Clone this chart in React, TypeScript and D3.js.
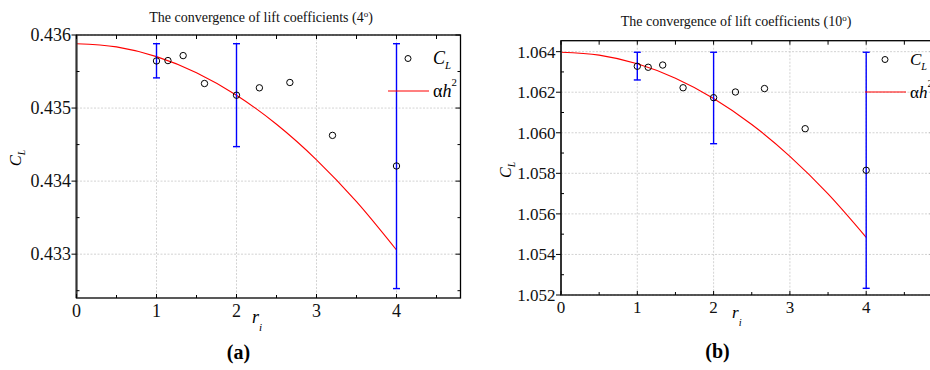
import React from "react";
import * as d3 from "d3";

// ---- data ----
const R_VALUES = [1, 1.143, 1.333, 1.6, 2, 2.286, 2.667, 3.2, 4];
const CL_4 = [0.435645, 0.43565, 0.435718, 0.435336, 0.435176, 0.435277, 0.43535, 0.434626, 0.434207];
const CL_10 = [1.06328, 1.06323, 1.06334, 1.06222, 1.06173, 1.06201, 1.06218, 1.0602, 1.05815];

const ERR_X = [1, 2, 4];
const ERR_4_LOW = [0.435413, 0.434472, 0.432529];
const ERR_4_HIGH = [0.435881, 0.435881, 0.435881];
const ERR_10_LOW = [1.062604, 1.059461, 1.05233];
const ERR_10_HIGH = [1.06397, 1.06397, 1.06397];

const FIT_X = [0, 0.5, 1, 1.5, 2, 2.5, 3, 3.5, 4];
const FIT_4 = [0.435881, 0.435837, 0.435704, 0.435484, 0.435175, 0.434778, 0.434292, 0.433719, 0.433057];
const FIT_10 = [1.06397, 1.063827, 1.0634, 1.062687, 1.06169, 1.060408, 1.05884, 1.056987, 1.054844];

const X_TICKS = [0, 1, 2, 3, 4];
const Y_TICKS_4 = [0.433, 0.434, 0.435, 0.436];
const Y_TICKS_10 = [1.052, 1.054, 1.056, 1.058, 1.06, 1.062, 1.064];

const TITLE_4 = "4";
const TITLE_10 = "10";

const FONT = "Liberation Serif";

type PanelProps = {
  left: number; top: number; bottom: number; pxPerUnit: number; xMax: number;
  yDomain: [number, number]; yTicks: number[]; yMinorStep: number; yFmt: string;
  values: number[]; errLow: number[]; errHigh: number[]; fit: number[];
  titleNum: string; titleX: number; titleY: number;
  tickFont: number; yLabelX: number; yLabelY: number; yLabelFont: number;
  xLabelX: number; xLabelY: number; xTickY: number;
  letter: string; letterX: number; letterY: number;
  legX: number; legY: number; legFont: number;
};

function Panel(p: PanelProps) {
  const x = d3.scaleLinear().domain([0, p.xMax]).range([p.left, p.left + p.xMax * p.pxPerUnit]);
  const y = d3.scaleLinear().domain(p.yDomain).range([p.bottom, p.top]);
  const right = x(p.xMax);
  const fmt = d3.format(p.yFmt);
  const xMinor = d3.range(0.5, p.xMax, 1);
  const yMinor = d3.range(p.yDomain[0], p.yDomain[1] + 1e-9, p.yMinorStep)
    .map((v) => Math.round(v / p.yMinorStep) * p.yMinorStep)
    .filter((v) => v >= p.yDomain[0] - 1e-9 && v <= p.yDomain[1] + 1e-9 && !p.yTicks.some((t) => Math.abs(t - v) < 1e-9));
  const line = d3.line<number>().x((_, i) => x(FIT_X[i])).y((d) => y(d)).curve(d3.curveMonotoneX);
  const cap = 3.5;
  return (
    <g>
      {/* grid */}
      {X_TICKS.filter((t) => t > 0).map((t) => (
        <line key={"gx" + t} x1={x(t)} x2={x(t)} y1={p.top} y2={p.bottom} stroke="#c8c8c8" strokeWidth={0.8} strokeDasharray="2,1.5" />
      ))}
      {p.yTicks.map((t) => (
        <line key={"gy" + t} x1={p.left} x2={right} y1={y(t)} y2={y(t)} stroke="#c8c8c8" strokeWidth={0.8} strokeDasharray="2,1.5" />
      ))}
      {/* fit curve */}
      <path d={line(p.fit) || ""} fill="none" stroke="#ff0000" strokeWidth={1.1} />
      {/* error bars */}
      {ERR_X.map((ex, i) => (
        <g key={"e" + i} stroke="#0000ff" strokeWidth={1.4}>
          <line x1={x(ex)} x2={x(ex)} y1={y(p.errHigh[i])} y2={y(p.errLow[i])} />
          <line x1={x(ex) - cap} x2={x(ex) + cap} y1={y(p.errHigh[i])} y2={y(p.errHigh[i])} />
          <line x1={x(ex) - cap} x2={x(ex) + cap} y1={y(p.errLow[i])} y2={y(p.errLow[i])} />
        </g>
      ))}
      {/* points */}
      {p.values.map((v, i) => (
        <circle key={"c" + i} cx={x(R_VALUES[i])} cy={y(v)} r={3.2} fill="none" stroke="#000" strokeWidth={1} />
      ))}
      {/* frame */}
      <rect x={p.left} y={p.top} width={right - p.left} height={p.bottom - p.top} fill="none" stroke="#000" strokeWidth={1.3} />
      <line x1={p.left} x2={p.left} y1={p.top} y2={p.bottom} stroke="#333" strokeWidth={2} />
      {/* x ticks */}
      {X_TICKS.map((t) => (
        <g key={"xt" + t}>
          <line x1={x(t)} x2={x(t)} y1={p.bottom} y2={p.bottom - 4} stroke="#000" />
          <line x1={x(t)} x2={x(t)} y1={p.top} y2={p.top + 4} stroke="#000" />
          <text x={x(t)} y={p.xTickY} fontFamily={FONT} fontSize={p.tickFont} textAnchor="middle" fill="#111">{t}</text>
        </g>
      ))}
      {xMinor.map((t) => (
        <g key={"xm" + t}>
          <line x1={x(t)} x2={x(t)} y1={p.bottom} y2={p.bottom - 3} stroke="#000" />
          <line x1={x(t)} x2={x(t)} y1={p.top} y2={p.top + 4} stroke="#000" />
        </g>
      ))}
      {/* y ticks */}
      {p.yTicks.map((t) => (
        <g key={"yt" + t}>
          <line x1={p.left - 5} x2={p.left} y1={y(t)} y2={y(t)} stroke="#000" />
          <line x1={right} x2={right - 5} y1={y(t)} y2={y(t)} stroke="#000" />
          <text x={p.left - 5.5} y={y(t)} dy="0.35em" fontFamily={FONT} fontSize={p.tickFont} textAnchor="end" fill="#111">{fmt(t)}</text>
        </g>
      ))}
      {yMinor.map((t) => (
        <g key={"ym" + t}>
          <line x1={p.left} x2={p.left + 3} y1={y(t)} y2={y(t)} stroke="#000" />
          <line x1={right} x2={right - 3} y1={y(t)} y2={y(t)} stroke="#000" />
        </g>
      ))}
      {/* title */}
      <text x={p.titleX} y={p.titleY} fontFamily={FONT} fontSize={14} textAnchor="middle" fill="#111">
        The convergence of lift coefficients ({p.titleNum}
        <tspan fontSize={9} dy={-5}>o</tspan>
        <tspan dy={5}>)</tspan>
      </text>
      {/* y label */}
      <text transform={`translate(${p.yLabelX},${p.yLabelY}) rotate(-90)`} fontFamily={FONT} fontSize={p.yLabelFont} fontStyle="italic" textAnchor="middle">
        C<tspan fontSize={p.yLabelFont * 0.6} dy={p.yLabelFont * 0.25}>L</tspan>
      </text>
      {/* x label */}
      <text x={p.xLabelX} y={p.xLabelY} fontFamily={FONT} fontSize={p.tickFont} fontStyle="italic">
        r<tspan fontSize={p.tickFont * 0.62} dy={p.tickFont * 0.45}>i</tspan>
      </text>
      {/* panel letter */}
      <text x={p.letterX} y={p.letterY} fontFamily={FONT} fontSize={20} fontWeight="bold" textAnchor="middle">
        ({p.letter})
      </text>
      {/* legend */}
      <circle cx={p.legX - 25} cy={p.legY - 5.5} r={3} fill="none" stroke="#000" strokeWidth={1} />
      <text x={p.legX} y={p.legY} fontFamily={FONT} fontSize={p.legFont} fontStyle="italic">
        C<tspan fontSize={p.legFont * 0.6} dy={p.legFont * 0.3}>L</tspan>
      </text>
      <line x1={p.legX - 45} x2={p.legX - 4} y1={p.legY + 27} y2={p.legY + 27} stroke="#ff0000" strokeWidth={1.2} />
      <text x={p.legX} y={p.legY + 32.5} fontFamily={FONT} fontSize={p.legFont}>
        α<tspan fontStyle="italic">h</tspan>
        <tspan fontSize={p.legFont * 0.6} dy={-p.legFont * 0.6}>2</tspan>
      </text>
    </g>
  );
}

export default function App() {
  return (
    <svg width={930} height={370} style={{ position: "absolute", left: 0, top: 0, background: "#fff" }}>
      <Panel
        left={76.5} top={35} bottom={298} pxPerUnit={80} xMax={4.8}
        yDomain={[0.4324, 0.436]} yTicks={Y_TICKS_4} yMinorStep={0.0005} yFmt=".3f"
        values={CL_4} errLow={ERR_4_LOW} errHigh={ERR_4_HIGH} fit={FIT_4}
        titleNum={TITLE_4} titleX={261} titleY={21.5}
        tickFont={18} yLabelX={21} yLabelY={158} yLabelFont={16.5}
        xLabelX={252} xLabelY={323} xTickY={317}
        letter="a" letterX={238.5} letterY={359}
        legX={433} legY={64} legFont={18}
      />
      <Panel
        left={561} top={40.7} bottom={295} pxPerUnit={76.3} xMax={4.9}
        yDomain={[1.052, 1.06454]} yTicks={Y_TICKS_10} yMinorStep={0.001} yFmt=".3f"
        values={CL_10} errLow={ERR_10_LOW} errHigh={ERR_10_HIGH} fit={FIT_10}
        titleNum={TITLE_10} titleX={736} titleY={26}
        tickFont={17} yLabelX={511} yLabelY={170} yLabelFont={16}
        xLabelX={732} xLabelY={318} xTickY={313}
        letter="b" letterX={717.5} letterY={358}
        legX={910} legY={65} legFont={17}
      />
    </svg>
  );
}
